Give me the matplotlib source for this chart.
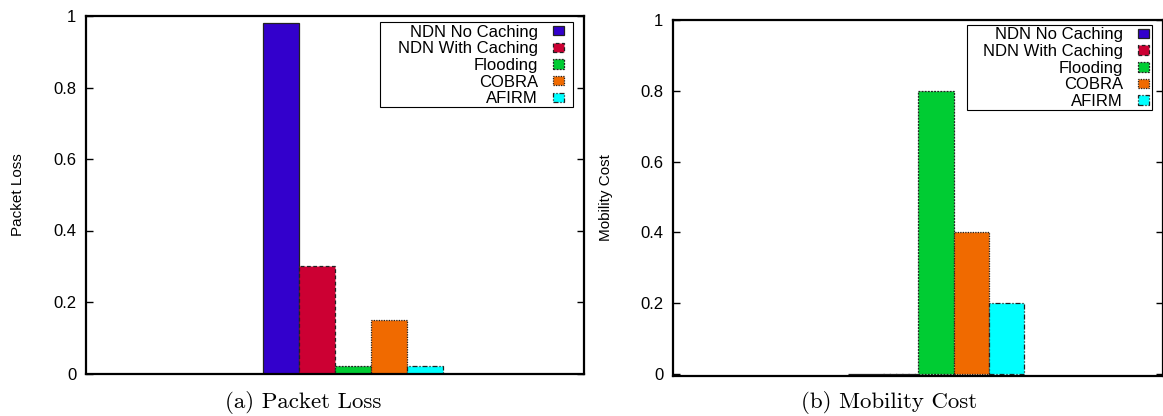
import numpy as np
import matplotlib
matplotlib.use("Agg")
import matplotlib.pyplot as plt
from matplotlib.patches import Patch, Rectangle

# Data
schemes = ["NDN No Caching", "NDN With Caching", "Flooding", "COBRA", "AFIRM"]
packet_loss = [0.98, 0.30, 0.02, 0.15, 0.02]
mobility_cost = [0.0, 0.0, 0.80, 0.40, 0.20]
yticks = [0, 0.2, 0.4, 0.6, 0.8, 1]
ytick_labels = ["0", "0.2", "0.4", "0.6", "0.8", "1"]

colors = ["#3300cc", "#cc0033", "#00cc33", "#f06a00", "#00ffff"]
edge_styles = ["-", (0, (3, 2)), (0, (1.5, 1)), (0, (1, 1)), (0, (4, 1.5, 1, 1.5))]

plt.rcParams["font.family"] = ["Liberation Sans", "DejaVu Sans"]


def draw_panel(ax, values, ylabel, ylim, anchor, box):
    x = np.arange(len(values))
    for i, v in enumerate(values):
        ax.bar(x[i], v, width=1.0, color=colors[i], edgecolor="#222222",
               linewidth=0.9, linestyle=edge_styles[i], label=schemes[i])
    ax.set_xlim(-5.44, 8.42)
    ax.set_ylim(*ylim)
    ax.set_yticks(yticks)
    ax.set_yticklabels(ytick_labels)
    ax.set_xticks([])
    ax.tick_params(axis="y", direction="in", length=5, width=1, right=True,
                   labelsize=12, pad=7)
    for s in ax.spines.values():
        s.set_linewidth(1.6)
    ax.set_ylabel(ylabel, fontsize=11)
    ax.yaxis.set_label_coords(-0.1225, 0.5)

    # gnuplot-style key: text right-aligned, sample on the right, wide left pad
    x0, y0, x1, y1 = box
    ax.add_patch(Rectangle((x0, y0), x1 - x0, y1 - y0, transform=ax.transAxes,
                           facecolor="white", edgecolor="black", linewidth=0.8,
                           zorder=4.5, clip_on=False))
    handles = [Patch(facecolor=colors[i], edgecolor="#222222", linewidth=0.9,
                     linestyle=edge_styles[i], label=schemes[i])
               for i in range(len(schemes))]
    ax.legend(handles=handles, loc="upper right", markerfirst=False,
              fontsize=12, frameon=False,
              handlelength=0.66, handleheight=0.5, handletextpad=0.9,
              labelspacing=0.1, borderpad=0.0, borderaxespad=0.0,
              bbox_to_anchor=anchor)


fig = plt.figure(figsize=(11.63, 4.16), dpi=100)
W, H = 1163, 416
ax1 = fig.add_axes([86 / W, 1 - 373.5 / H, 498 / W, 357.5 / H])
ax2 = fig.add_axes([673 / W, 1 - 376 / H, 490 / W, 356 / H])

draw_panel(ax1, packet_loss, "Packet Loss", (0, 1), (0.9598, 0.976),
           (0.5904, 0.7455, 0.9779, 0.9832))
draw_panel(ax2, mobility_cost, "Mobility Cost", (-0.006, 1.0), (0.9714, 0.979),
           (0.600, 0.747, 0.9776, 0.986))

fig.text(303 / W, 1 - 403 / H, "(a) Packet Loss", family="cmr10",
         fontsize=16.5, ha="center", va="center")
fig.text(889 / W, 1 - 403 / H, "(b) Mobility Cost", family="cmr10",
         fontsize=16.5, ha="center", va="center")

fig.savefig("out.png", dpi=100)
